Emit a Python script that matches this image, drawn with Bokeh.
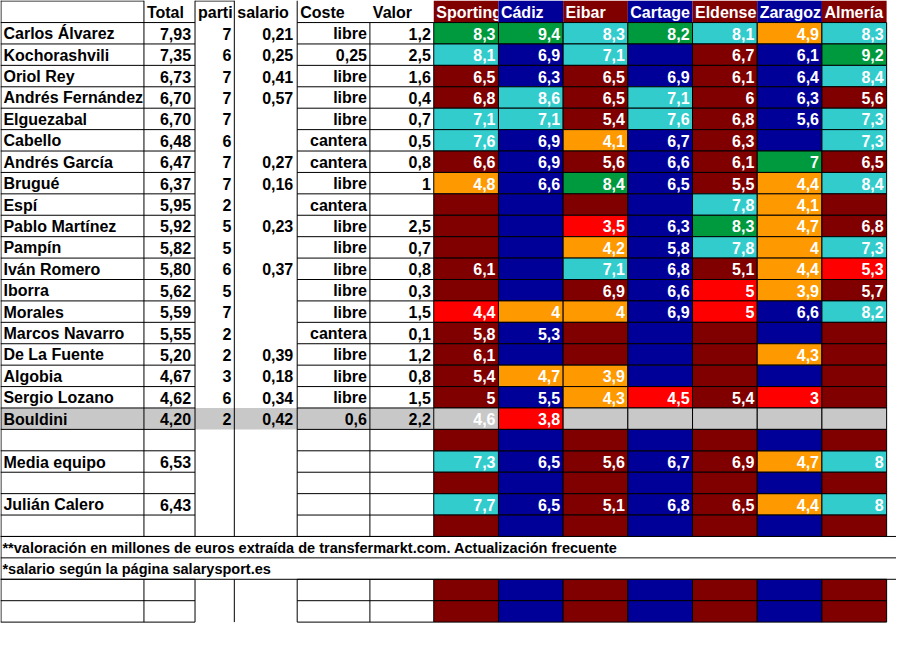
from bokeh.plotting import figure
from bokeh.models import ColumnDataSource, Range1d
from bokeh.core.properties import value
from bokeh.embed import file_html
from bokeh.resources import INLINE

# ---------------- data ----------------
players = ["Carlos Álvarez", "Kochorashvili", "Oriol Rey", "Andrés Fernández", "Elguezabal",
           "Cabello", "Andrés García", "Brugué", "Espí", "Pablo Martínez", "Pampín",
           "Iván Romero", "Iborra", "Morales", "Marcos Navarro", "De La Fuente", "Algobia",
           "Sergio Lozano", "Bouldini"]
total = [7.93, 7.35, 6.73, 6.70, 6.70, 6.48, 6.47, 6.37, 5.95, 5.92, 5.82, 5.80, 5.62,
         5.59, 5.55, 5.20, 4.67, 4.62, 4.20]
partidos = [7, 6, 7, 7, 7, 6, 7, 7, 2, 5, 5, 6, 5, 7, 2, 2, 3, 6, 2]
salario = [0.21, 0.25, 0.41, 0.57, None, None, 0.27, 0.16, None, 0.23, None, 0.37, None,
           None, None, 0.39, 0.18, 0.34, 0.42]
coste = ["libre", "0,25", "libre", "libre", "libre", "cantera", "cantera", "libre", "cantera",
         "libre", "libre", "libre", "libre", "libre", "cantera", "libre", "libre", "libre", "0,6"]
valor = [1.2, 2.5, 1.6, 0.4, 0.7, 0.5, 0.8, 1.0, None, 2.5, 0.7, 0.8, 0.3, 1.5, 0.1, 1.2,
         0.8, 1.5, 2.2]

headers = ["Total", "parti", "salario", "Coste", "Valor"]
teams = ["Sporting", "Cádiz", "Eibar", "Cartage", "Eldense", "Zaragoz", "Almería"]

sporting = [8.3, 8.1, 6.5, 6.8, 7.1, 7.6, 6.6, 4.8, None, None, None, 6.1, None, 4.4, 5.8,
            6.1, 5.4, 5.0, 4.6]
cadiz = [9.4, 6.9, 6.3, 8.6, 7.1, 6.9, 6.9, 6.6, None, None, None, None, None, 4.0, 5.3,
         None, 4.7, 5.5, 3.8]
eibar = [8.3, 7.1, 6.5, 6.5, 5.4, 4.1, 5.6, 8.4, None, 3.5, 4.2, 7.1, 6.9, 4.0, None,
         None, 3.9, 4.3, None]
cartagena = [8.2, None, 6.9, 7.1, 7.6, 6.7, 6.6, 6.5, None, 6.3, 5.8, 6.8, 6.6, 6.9, None,
             None, None, 4.5, None]
eldense = [8.1, 6.7, 6.1, 6.0, 6.8, 6.3, 6.1, 5.5, 7.8, 8.3, 7.8, 5.1, 5.0, 5.0, None,
           None, None, 5.4, None]
zaragoza = [4.9, 6.1, 6.4, 6.3, 5.6, None, 7.0, 4.4, 4.1, 4.7, 4.0, 4.4, 3.9, 6.6, None,
            4.3, None, 3.0, None]
almeria = [8.3, 9.2, 8.4, 5.6, 7.3, 7.3, 6.5, 8.4, None, 6.8, 7.3, 5.3, 5.7, 8.2, None,
           None, None, None, None]

# rating band per cell (g = best, c = high, o = low, r = worst, x = not selected, . = normal)
rating_class = ["ggcgcoc", "c.c...g", "......c", ".c.c...", "cc.c..c", "c.o...c",
                ".....g.", "o.g..oc", "....co.", "..r.go.", "..o.coc", "..c..or",
                "....ro.", "roo.r.c", ".......", ".....o.", ".oo....", "..or.r.", "xrxxxxx"]

summary_names = ["Media equipo", "Julián Calero"]
summary_total = [6.53, 6.43]
media_equipo = [7.3, 6.5, 5.6, 6.7, 6.9, 4.7, 8.0]
julian_calero = [7.7, 6.5, 5.1, 6.8, 6.5, 4.4, 8.0]
summary_class = ["c....oc", "c....oc"]

footnotes = ["**valoración en millones de euros extraída de transfermarkt.com. Actualización frecuente",
             "*salario según la página salarysport.es"]
highlighted = "Bouldini"

# ---------------- layout / style ----------------
COL_EDGES = [0, 146, 198, 238, 302, 376, 441]
TEAM_X0, TEAM_W = 441, 65.85
HEADER_H, ROW_H, N_ROWS = 22.6, 21.95, 28
SUMMARY_ROWS = [20, 22]
BLANK_GRID_ROWS = [19, 21, 23, 26, 27]
FOOT_ROWS = [24, 25]
FONT = value("Liberation Sans")
TEAM_BASE = ["#800000", "#000099"]
BAND = {"g": "#009A3E", "c": "#33CCCC", "o": "#FF9900", "r": "#FF0000", "x": "#C8C8C8"}
GRAY = "#C8C8C8"


def top(k):
    return HEADER_H + k * ROW_H


def mid(k):
    return top(k) + ROW_H / 2 + 0.5


def num(v, dec=None):
    if v is None:
        return ""
    s = f"{v:.{dec}f}" if dec is not None else f"{v:g}"
    return s.replace(".", ",")


p = figure(width=896, height=638, x_range=Range1d(0, 912), y_range=Range1d(654, 0),
           output_backend="svg", toolbar_location=None, min_border=0)
p.axis.visible = False
p.grid.visible = False
p.outline_line_color = None
p.background_fill_color = "white"

# highlighted row background (left part)
hk = players.index(highlighted)
p.quad(left=[COL_EDGES[0]], right=[COL_EDGES[-1]], top=[top(hk)], bottom=[top(hk + 1)],
       fill_color=GRAY, line_color=None)

# team header cells (each drawn after the previous label so it clips overflow)
for j, t in enumerate(teams):
    x0 = TEAM_X0 + j * TEAM_W
    p.quad(left=[x0], right=[x0 + TEAM_W], top=[0], bottom=[HEADER_H],
           fill_color=TEAM_BASE[j % 2], line_color=None)
    p.text(x=[x0 + 2.5], y=[12], text=[t], text_color="white", text_font=FONT,
           text_font_style="bold", text_font_size="16px", text_align="left",
           text_baseline="middle")

# team rating cells
team_cols = [sporting, cadiz, eibar, cartagena, eldense, zaragoza, almeria]
cell = dict(left=[], right=[], top=[], bottom=[], color=[])
vals = dict(x=[], y=[], text=[])
rows_data = []
for k in range(len(players)):
    rows_data.append((k, [c[k] for c in team_cols], rating_class[k]))
for k, r, cl in zip(SUMMARY_ROWS, [media_equipo, julian_calero], summary_class):
    rows_data.append((k, r, cl))
for k in BLANK_GRID_ROWS:
    rows_data.append((k, [None] * len(teams), "." * len(teams)))
for k, r, cl in rows_data:
    for j in range(len(teams)):
        x0 = TEAM_X0 + j * TEAM_W
        cell["left"].append(x0)
        cell["right"].append(x0 + TEAM_W)
        cell["top"].append(top(k))
        cell["bottom"].append(top(k + 1))
        cell["color"].append(BAND.get(cl[j], TEAM_BASE[j % 2]))
        if r[j] is not None:
            vals["x"].append(x0 + TEAM_W - 3)
            vals["y"].append(mid(k))
            vals["text"].append(num(r[j]))
p.quad(left="left", right="right", top="top", bottom="bottom", fill_color="color",
       line_color="black", line_width=1, source=ColumnDataSource(cell))
p.text(x="x", y="y", text="text", source=ColumnDataSource(vals), text_color="white",
       text_font=FONT, text_font_style="bold", text_font_size="16px", text_align="right",
       text_baseline="middle")

# grid lines of the left part
seg = dict(x0=[], y0=[], x1=[], y1=[])


def add(x0, y0, x1, y1):
    seg["x0"].append(x0); seg["y0"].append(y0); seg["x1"].append(x1); seg["y1"].append(y1)


grid_ks = list(range(0, 25)) + [26, 27, 28]
for k in grid_ks:
    add(COL_EDGES[0], top(k), COL_EDGES[2], top(k))
    add(COL_EDGES[4], top(k), COL_EDGES[6], top(k))
for k in [24, 25, 26]:
    add(0, top(k), 912, top(k))
add(COL_EDGES[0], 0.5, COL_EDGES[1], 0.5)
add(COL_EDGES[2], 0.5, COL_EDGES[3], 0.5)
add(0.5, 0, 0.5, top(28))
for x in COL_EDGES[1:5]:
    add(x, 0, x, top(24))
    add(x, top(26), x, top(28))
add(COL_EDGES[5], top(0), COL_EDGES[5], top(24))
add(COL_EDGES[5], top(26), COL_EDGES[5], top(28))
p.segment(x0="x0", y0="y0", x1="x1", y1="y1", source=ColumnDataSource(seg),
          line_color="black", line_width=1)

# header labels of the left part
p.text(x=[e + 3 for e in COL_EDGES[1:6]], y=[12] * 5, text=headers, text_color="black",
       text_font=FONT, text_font_style="bold", text_font_size="16px", text_align="left",
       text_baseline="middle")

# left part texts
name_rows = list(range(len(players))) + SUMMARY_ROWS
names_all = players + summary_names
totals_all = total + summary_total
p.text(x=[3] * len(names_all), y=[mid(k) for k in name_rows], text=names_all,
       text_color="black", text_font=FONT, text_font_style="bold", text_font_size="16px",
       text_align="left", text_baseline="middle")
right_cols = [
    (name_rows, [num(v, 2) for v in totals_all], COL_EDGES[2] - 4),
    (list(range(len(players))), [str(v) for v in partidos], COL_EDGES[3] - 3),
    (list(range(len(players))), [num(v, 2) for v in salario], COL_EDGES[4] - 4),
    (list(range(len(players))), coste, COL_EDGES[5] - 3),
    (list(range(len(players))), [num(v) for v in valor], COL_EDGES[6] - 3),
]
for ks, txt, xr in right_cols:
    p.text(x=[xr] * len(ks), y=[mid(k) for k in ks], text=txt, text_color="black",
           text_font=FONT, text_font_style="bold", text_font_size="16px",
           text_align="right", text_baseline="middle")

# footnotes
p.text(x=[2, 2], y=[mid(k) for k in FOOT_ROWS], text=footnotes, text_color="black",
       text_font=FONT, text_font_style="bold", text_font_size="14.5px", text_align="left",
       text_baseline="middle")

open("out.html", "w").write(file_html(p, INLINE))
